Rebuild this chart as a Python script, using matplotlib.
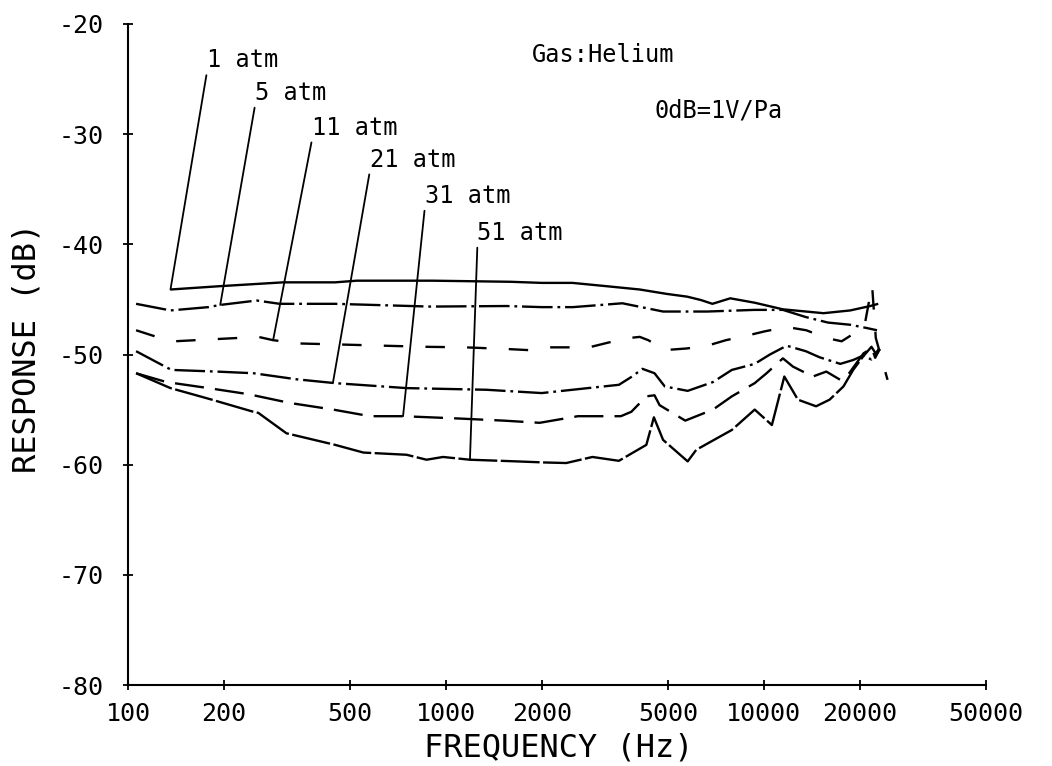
import numpy as np
import matplotlib
matplotlib.use("Agg")
import matplotlib.pyplot as plt
from matplotlib.ticker import FixedLocator, FixedFormatter, NullLocator

# ---- measured response curves (frequency in Hz, response in dB re 1 V/Pa) ----
freq_1atm = [136, 194, 308, 448, 524, 910, 1600, 2000, 2500, 3200, 4070, 4950,
             5740, 6330, 6890, 7840, 9360, 11480, 15400, 18700, 21600, 22900]
resp_1atm = [-44.1, -43.8, -43.45, -43.45, -43.3, -43.3, -43.4, -43.5, -43.5,
             -43.8, -44.1, -44.5, -44.75, -45.05, -45.4, -44.9, -45.3, -45.9,
             -46.25, -46.0, -45.6, -45.4]

freq_5atm = [106, 136, 179, 195, 254, 300, 448, 890, 1550, 2000, 2510, 3590,
             4820, 6640, 9360, 11480, 13550, 15900, 18700, 21100, 22700]
resp_5atm = [-45.4, -46.0, -45.7, -45.5, -45.1, -45.4, -45.4, -45.65, -45.6,
             -45.7, -45.7, -45.35, -46.1, -46.1, -45.95, -45.95, -46.6, -47.1,
             -47.3, -47.6, -47.8]

freq_11atm = [106, 123, 140, 190, 257, 286, 347, 476, 635, 859, 1148, 1552,
              1815, 2070, 2820, 3260, 3780, 4070, 4330, 4880, 5730, 6640, 7600,
              8810, 10060, 11780, 13600, 15720, 17570, 20700, 21900, 22500,
              24500]
resp_11atm = [-47.8, -48.4, -48.8, -48.6, -48.4, -48.7, -49.0, -49.1, -49.2,
              -49.3, -49.35, -49.5, -49.6, -49.35, -49.35, -48.9, -48.5, -48.4,
              -48.7, -49.6, -49.45, -49.2, -48.7, -48.3, -47.9, -47.5, -47.8,
              -48.5, -48.8, -47.5, -43.7, -48.5, -52.3]

freq_21atm = [106, 126, 137, 190, 248, 339, 448, 752, 1340, 2000, 3500, 3850,
              4150, 4530, 4880, 5760, 6920, 7930, 9360, 10450, 11800, 13550,
              14970, 17400, 19100, 20500, 21800, 23000]
resp_21atm = [-49.7, -50.85, -51.4, -51.55, -51.7, -52.25, -52.6, -53.05, -53.2,
              -53.5, -52.75, -52.0, -51.3, -51.7, -52.9, -53.3, -52.5, -51.4,
              -50.85, -50.0, -49.2, -49.7, -50.25, -50.85, -50.5, -50.1, -50.45,
              -49.5]

freq_31atm = [106, 132, 179, 239, 323, 442, 577, 733, 1080, 1515, 1972, 2600,
              3550, 3830, 4270, 4530, 4700, 5660, 6920, 7930, 9360, 10200, 11480,
              12350, 14260, 15720, 17400, 18230, 19370, 20580, 21860, 22400,
              22950]
resp_31atm = [-51.7, -52.5, -53.05, -53.6, -54.4, -55.0, -55.6, -55.6, -55.8,
              -56.0, -56.2, -55.6, -55.6, -55.2, -53.8, -53.7, -54.6, -56.0,
              -55.0, -53.8, -52.6, -51.7, -50.35, -51.1, -52.0, -51.55, -52.3,
              -52.0, -50.95, -49.9, -49.4, -50.3, -49.7]

freq_51atm = [106, 136, 181, 248, 257, 315, 448, 550, 752, 869, 979, 1190,
              1665, 2045, 2390, 2890, 3500, 4270, 4510, 4820, 5760, 6130, 7930,
              9360, 10600, 11600, 12800, 14600, 16100, 17800, 19100, 20500,
              21800, 22600, 23200]
resp_51atm = [-51.7, -53.05, -54.05, -55.2, -55.3, -57.15, -58.2, -58.9, -59.1,
              -59.55, -59.3, -59.55, -59.7, -59.8, -59.85, -59.3, -59.65, -58.2,
              -55.7, -57.75, -59.7, -58.65, -56.85, -55.0, -56.4, -52.0, -54.1,
              -54.7, -54.1, -52.9, -51.4, -50.2, -49.3, -50.0, -49.5]

pressure_labels = ["1 atm", "5 atm", "11 atm", "21 atm", "31 atm", "51 atm"]
# frequency at which each label's leader line meets its curve
leader_freqs = [136, 195, 286, 441, 733, 1190]

x_ticks = [100, 200, 500, 1000, 2000, 5000, 10000, 20000, 50000]
x_tick_labels = ["100", "200", "500", "1000", "2000", "5000", "10000", "20000", "50000"]
y_ticks = [-20, -30, -40, -50, -60, -70, -80]
y_tick_labels = ["-20", "-30", "-40", "-50", "-60", "-70", "-80"]

# ---- styling ----
FONT = "DejaVu Sans Mono"
plt.rcParams["font.family"] = FONT
plt.rcParams["lines.scale_dashes"] = False

curves = [
    (freq_1atm, resp_1atm, "-"),
    (freq_5atm, resp_5atm, (0, (22, 3.5, 2, 3.5))),
    (freq_11atm, resp_11atm, (0, (14, 16))),
    (freq_21atm, resp_21atm, (0, (22, 3.5, 2, 3.5))),
    (freq_31atm, resp_31atm, (0, (21, 8))),
    (freq_51atm, resp_51atm, (0, (28, 2.5))),
]

# label anchor points (lower-left of each label, data coordinates)
label_anchor_f = [177, 251, 379, 576, 858, 1256]
label_anchor_db = [-24.4, -27.35, -30.5, -33.4, -36.7, -40.05]

fig = plt.figure(figsize=(10.52, 7.66), dpi=100)
ax = fig.add_axes([0.1217, 0.1057, 0.8156, 0.863])

for f, r, ls in curves:
    ax.plot(f, r, color="black", lw=1.7, linestyle=ls, solid_capstyle="butt")

for (f, r, _), name, lf, ax_f, ax_db in zip(curves, pressure_labels, leader_freqs,
                                            label_anchor_f, label_anchor_db):
    y_end = np.interp(np.log10(lf), np.log10(f), r)
    ax.annotate(name, xy=(lf, y_end), xytext=(ax_f, ax_db),
                ha="left", va="bottom", fontsize=17, color="black",
                arrowprops=dict(arrowstyle="-", lw=1.3, color="black",
                                shrinkA=0, shrinkB=0, relpos=(0.0, 0.0)))

ax.text(0.471, 0.9425, "Gas:Helium", transform=ax.transAxes, fontsize=17,
        ha="left", va="baseline")
ax.text(0.614, 0.858, "0dB=1V/Pa", transform=ax.transAxes, fontsize=17,
        ha="left", va="baseline")

ax.set_xscale("log")
ax.set_xlim(100, 50000)
ax.set_ylim(-80, -20)
ax.xaxis.set_major_locator(FixedLocator(x_ticks))
ax.xaxis.set_major_formatter(FixedFormatter(x_tick_labels))
ax.xaxis.set_minor_locator(NullLocator())
ax.yaxis.set_major_locator(FixedLocator(y_ticks))
ax.yaxis.set_major_formatter(FixedFormatter(y_tick_labels))

for side in ("top", "right"):
    ax.spines[side].set_visible(False)
for side in ("left", "bottom"):
    ax.spines[side].set_linewidth(1.5)

ax.tick_params(axis="both", direction="inout", length=7, width=1.3,
               labelsize=18)
ax.tick_params(axis="x", pad=9)
ax.tick_params(axis="y", pad=14)

ax.set_xlabel("FREQUENCY (Hz)", fontsize=23)
ax.set_ylabel("RESPONSE (dB)", fontsize=23)
ax.xaxis.set_label_coords(0.502, -0.072)
ax.xaxis.label.set_va("top")
ax.yaxis.set_label_coords(-0.10, 0.51)

fig.savefig("out.png", dpi=100)
